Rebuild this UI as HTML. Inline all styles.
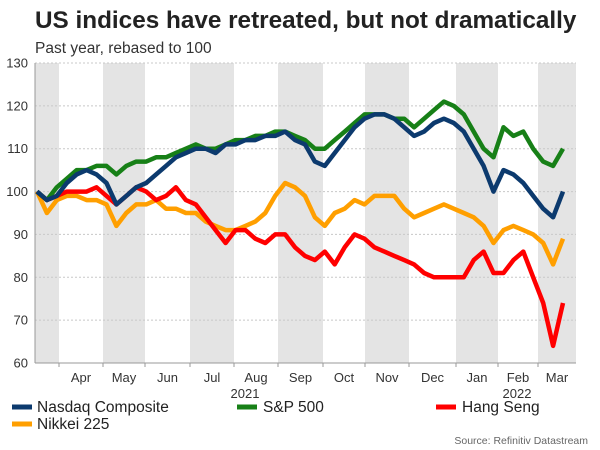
<!DOCTYPE html>
<html><head><meta charset="utf-8"><style>
body{margin:0;background:#fff;font-family:"Liberation Sans",Arial,sans-serif;}
#wrap{position:relative;width:600px;height:450px;overflow:hidden;}
</style></head><body>
<div id="wrap">
<svg id="chart" width="600" height="450" xmlns="http://www.w3.org/2000/svg">
<text x="35" y="28" font-size="24.3" font-weight="bold" fill="#222">US indices have retreated, but not dramatically</text>
<text x="35" y="53" font-size="15.5" fill="#333">Past year, rebased to 100</text>
<g id="bands"></g><g id="grid"></g><g id="axes"></g><g id="lines"></g>
<g>
<line x1="12" y1="407" x2="32" y2="407" stroke="#0c3a6e" stroke-width="5"/>
<text x="37" y="412" font-size="15.5" fill="#222">Nasdaq Composite</text>
<line x1="237" y1="407" x2="257" y2="407" stroke="#178017" stroke-width="5"/>
<text x="263" y="412" font-size="15.5" fill="#222">S&amp;P 500</text>
<line x1="436" y1="407" x2="456" y2="407" stroke="#f00" stroke-width="5"/>
<text x="462" y="412" font-size="15.5" fill="#222">Hang Seng</text>
<line x1="12" y1="424" x2="32" y2="424" stroke="#ff9f00" stroke-width="5"/>
<text x="37" y="429" font-size="15.5" fill="#222">Nikkei 225</text>
</g>
<text x="588" y="444" font-size="10.5" fill="#666" text-anchor="end">Source: Refinitiv Datastream</text>
</svg>
</div>
<script>
const yTicks=[60,70,80,90,100,110,120,130];
const months=["Apr","May","Jun","Jul","Aug","Sep","Oct","Nov","Dec","Jan","Feb","Mar"];
const years=["2021","2022"];
const nasdaq=[100,98,99,102,104,105,104,102,97,99,101,102,104,106,108,109,110,110,109,111,111,112,112,113,113,114,112,111,107,106,109,112,115,117,118,118,117,115,113,114,116,117,116,114,110,106,100,105,104,102,99,96,94,100];
const sp500=[100,98,101,103,105,105,106,106,104,106,107,107,108,108,109,110,111,110,110,111,112,112,113,113,114,114,113,112,110,110,112,114,116,118,118,118,117,117,115,117,119,121,120,118,114,110,108,115,113,114,110,107,106,110];
const nikkei=[100,95,98,99,99,98,98,97,92,95,97,97,98,96,96,95,95,93,92,91,91,92,93,95,99,102,101,99,94,92,95,96,98,97,99,99,99,96,94,95,96,97,96,95,94,92,88,91,92,91,90,88,83,89];
const hangSeng=[100,98,99,100,100,100,101,99,97,99,101,100,98,99,101,98,97,94,91,88,91,91,89,88,90,90,87,85,84,86,83,87,90,89,87,86,85,84,83,81,80,80,80,80,84,86,81,81,84,86,80,74,64,74];
const NS="http://www.w3.org/2000/svg";
const X0=35,X1=576,Y0=63,Y1=363;
function yS(v){return Y1-(v-60)/70*(Y1-Y0);}
function xS(i,n){return 37+i*(563-37)/(n-1);}
const bounds=[35,59,103,145,190,234,278,323,365,409,456,498,538,576];
function mk(tag,attrs,parent){const e=document.createElementNS(NS,tag);for(const k in attrs)e.setAttribute(k,attrs[k]);parent.appendChild(e);return e;}
const bands=document.getElementById('bands');
for(let b=0;b<bounds.length-1;b+=2){
 const r=mk('rect',{x:bounds[b],y:Y0,width:bounds[b+1]-bounds[b],height:Y1-Y0,fill:'#e4e4e4'},bands);
 
 
}
const grid=document.getElementById('grid');
yTicks.forEach(t=>{
 const l=mk('line',{x1:X0,x2:X1,y1:yS(t),y2:yS(t),stroke:'#c8c8c8','stroke-dasharray':'2,2','stroke-width':1},grid);
 
 
 const tx=mk('text',{x:28,y:yS(t)+4.5,'font-size':13,fill:'#333','text-anchor':'end'},grid);
 tx.textContent=t;
 
 
});
const axes=document.getElementById('axes');
const ax=mk('line',{x1:X0,x2:X0,y1:Y0,y2:Y1,stroke:'#999'},axes);


const bx=mk('line',{x1:X0,x2:X1,y1:Y1,y2:Y1,stroke:'#999'},axes);


months.forEach((m,i)=>{
 const tk=mk('line',{x1:bounds[i+1],x2:bounds[i+1],y1:Y1,y2:Y1+4,stroke:'#999'},axes);
 
 
 const c=(bounds[i+1]+(bounds[i+2]||576))/2;
 const tx=mk('text',{x:i==months.length-1?557:c,y:382,'font-size':13,fill:'#333','text-anchor':'middle'},axes);
 tx.textContent=m;
 
 
});
[[years[0],245],[years[1],517]].forEach(([y,x])=>{
 const tx=mk('text',{x:x,y:398,'font-size':13,fill:'#333','text-anchor':'middle'},axes);
 tx.textContent=y;
 
 
});
const lines=document.getElementById('lines');
[[nikkei,'#ff9f00','line-nikkei'],[hangSeng,'#f00','line-hang-seng'],[sp500,'#178017','line-sp500'],[nasdaq,'#0c3a6e','line-nasdaq']].forEach(([d,c,n])=>{
 const p=mk('polyline',{points:d.map((v,i)=>xS(i,d.length).toFixed(1)+','+yS(v).toFixed(1)).join(' '),fill:'none',stroke:c,'stroke-width':4.5,'stroke-linejoin':'round'},lines);
 
 
});
</script>
</body></html>
